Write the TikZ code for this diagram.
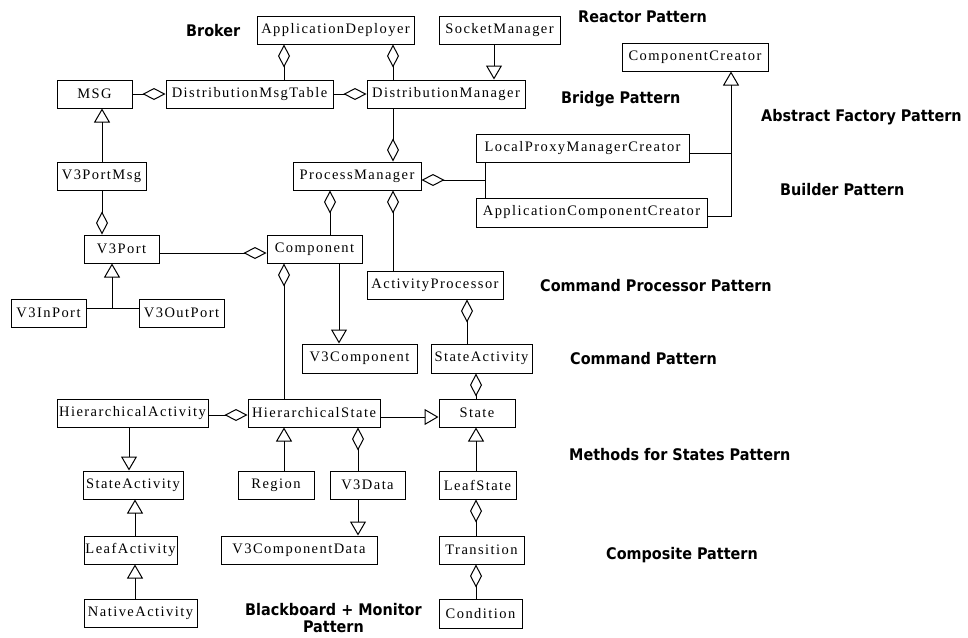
\documentclass[tikz,border=0pt]{standalone}
\usepackage{fontspec}
\setmainfont{Liberation Serif}
\newfontfamily\boxfont[LetterSpace=10]{Liberation Serif}
\newfontfamily\patfont[FakeStretch=0.9]{DejaVu Sans Bold}
\usetikzlibrary{arrows.meta}
\newcommand\ubox[6]{\node[box, minimum width={(#5-#3)*1pt}, minimum height={(#6-#4)*1pt}] (#1) at ({(#3+#5)/2},{(#4+#6)/2}) {#2};}
\begin{document}
\begin{tikzpicture}[x=1pt,y=-1pt,
  box/.style={draw, line width=1pt, inner sep=0pt, font=\boxfont\fontsize{14.5}{15}\selectfont},
  pat/.style={font=\patfont\fontsize{16}{17}\selectfont, anchor=west, inner sep=0pt, align=center},
  conn/.style={line width=1pt},
  agg/.style={conn, {Diamond[open,length=23pt,width=12pt]}-},
  gen/.style={conn, -{Triangle[open,length=14pt,width=16pt]}},
]
\useasboundingbox (0,0) rectangle (968,637);
% boxes
\ubox{AD}{ApplicationDeployer}{257}{16}{414}{44}
\ubox{SM}{SocketManager}{439}{16}{560}{44}
\ubox{MSG}{MSG}{57}{80}{132}{108}
\ubox{DMT}{DistributionMsgTable}{166}{80}{333}{108}
\ubox{DM}{DistributionManager}{367}{80}{525}{108}
\ubox{CC}{ComponentCreator}{622}{43}{768}{71}
\ubox{LPMC}{LocalProxyManagerCreator}{476}{134}{689}{162}
\ubox{ACC}{ApplicationComponentCreator}{476}{198}{707}{227}
\ubox{VPM}{V3PortMsg}{57}{162}{146}{190}
\ubox{PM}{ProcessManager}{293}{162}{421}{190}
\ubox{VP}{V3Port}{84}{235}{159}{263}
\ubox{Comp}{Component}{267}{235}{362}{263}
\ubox{AP}{ActivityProcessor}{367}{271}{503}{299}
\ubox{VIn}{V3InPort}{11}{299}{86}{327}
\ubox{VOut}{V3OutPort}{139}{299}{224}{327}
\ubox{VComp}{V3Component}{302}{344}{417}{373}
\ubox{SAr}{StateActivity}{431}{344}{532}{373}
\ubox{HA}{HierarchicalActivity}{57}{399}{208}{427}
\ubox{HS}{HierarchicalState}{248}{399}{380}{427}
\ubox{St}{State}{439}{399}{515}{427}
\ubox{SAl}{StateActivity}{83}{471}{183}{499}
\ubox{Reg}{Region}{238}{471}{314}{499}
\ubox{VD}{V3Data}{330}{471}{405}{499}
\ubox{LS}{LeafState}{439}{471}{516}{499}
\ubox{LA}{LeafActivity}{84}{536}{177}{564}
\ubox{VCD}{V3ComponentData}{221}{536}{377}{564}
\ubox{Tr}{Transition}{439}{536}{524}{564}
\ubox{NA}{NativeActivity}{84}{599}{197}{627}
\ubox{Cond}{Condition}{439}{599}{522}{628}
% labels
\node[pat] (lBroker) at (186,31) {Broker};
\node[pat] (lReactor) at (578,17) {Reactor Pattern};
\node[pat] (lBridge) at (561,99) {Bridge Pattern};
\node[pat] (lAbs) at (761,117) {Abstract Factory Pattern};
\node[pat] (lBuilder) at (780,190) {Builder Pattern};
\node[pat] (lCmdP) at (540,286) {Command Processor Pattern};
\node[pat] (lCmd) at (570,359) {Command Pattern};
\node[pat] (lMeth) at (569,455) {Methods for States Pattern};
\node[pat] (lComp) at (606,555) {Composite Pattern};
\node[pat] (lBB) at (245,618.5) {Blackboard + Monitor\\Pattern};
% x / y guide coordinates
\coordinate (x102) at (102,0);
\coordinate (x112) at (112,0);
\coordinate (x129) at (129,0);
\coordinate (x135) at (135,0);
\coordinate (x284) at (284,0);
\coordinate (x330) at (330,0);
\coordinate (x339) at (339,0);
\coordinate (x358) at (358,0);
\coordinate (x393) at (393,0);
\coordinate (x467) at (467,0);
\coordinate (x476) at (476,0);
\coordinate (x494) at (494,0);
\coordinate (y94) at (0,94);
\coordinate (y253) at (0,253);
\coordinate (y415) at (0,415);
\coordinate (y417) at (0,417);
\coordinate (y153) at (0,153);
\coordinate (y216) at (0,216);
\coordinate (jV) at (112,308);
\coordinate (jPM) at (485,180);
\coordinate (jCC) at (731,153);
\coordinate (jCC2) at (731,216);
% top
\draw[agg] (AD.south -| x284) -- (DMT.north -| x284);
\draw[agg] (AD.south -| x393) -- (DM.north -| x393);
\draw[agg] (DMT.west |- y94) -- (MSG.east |- y94);
\draw[agg] (DM.west |- y94) -- (DMT.east |- y94);
\draw[gen] (SM.south -| x494) -- (DM.north -| x494);
\draw[gen] (VPM.north -| x102) -- (MSG.south -| x102);
\draw[agg] (PM.north -| x393) -- (DM.south -| x393);
% creators
\draw[agg] (PM.east |- jPM) -- (jPM);
\draw[conn] (LPMC.south -| jPM) -- (ACC.north -| jPM);
\draw[conn] (LPMC.east |- y153) -- (jCC);
\draw[conn] (ACC.east |- y216) -- (jCC2) -- (jCC);
\draw[gen] (jCC) -- (CC.south -| jCC);
% ports
\draw[agg] (VP.north -| x102) -- (VPM.south -| x102);
\draw[agg] (Comp.west |- y253) -- (VP.east |- y253);
\draw[conn] (VIn.east |- jV) -- (VOut.west |- jV);
\draw[gen] (jV) -- (VP.south -| x112);
% process manager
\draw[agg] (PM.south -| x330) -- (Comp.north -| x330);
\draw[agg] (PM.south -| x393) -- (AP.north -| x393);
\draw[gen] (Comp.south -| x339) -- (VComp.north -| x339);
\draw[agg] (Comp.south -| x284) -- (HS.north -| x284);
\draw[agg] (AP.south -| x467) -- (SAr.north -| x467);
\draw[agg] (SAr.south -| x476) -- (St.north -| x476);
% states
\draw[gen] (HS.east |- y417) -- (St.west |- y417);
\draw[agg] (HS.west |- y415) -- (HA.east |- y415);
\draw[gen] (HA.south -| x129) -- (SAl.north -| x129);
\draw[gen] (LA.north -| x135) -- (SAl.south -| x135);
\draw[gen] (NA.north -| x135) -- (LA.south -| x135);
\draw[gen] (Reg.north -| x284) -- (HS.south -| x284);
\draw[agg] (HS.south -| x358) -- (VD.north -| x358);
\draw[gen] (VD.south -| x358) -- (VCD.north -| x358);
\draw[gen] (LS.north -| x476) -- (St.south -| x476);
\draw[agg] (LS.south -| x476) -- (Tr.north -| x476);
\draw[agg] (Tr.south -| x476) -- (Cond.north -| x476);
\end{tikzpicture}
\end{document}
